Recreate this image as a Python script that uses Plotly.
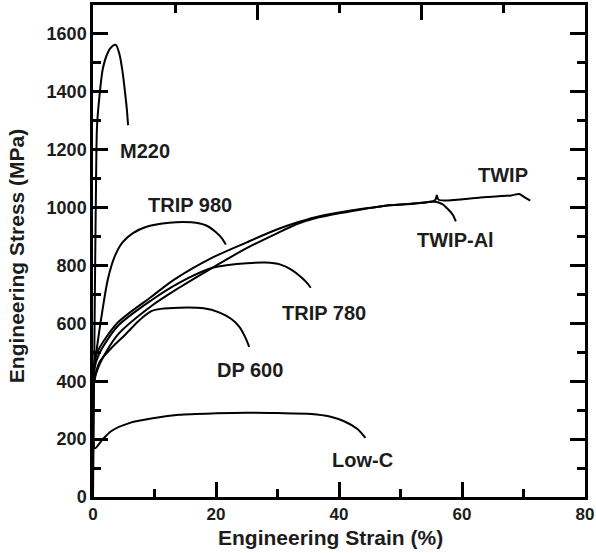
import plotly.graph_objects as go

# ---------------- data (engineering strain %, engineering stress MPa) ----------------
m220_x = [0, 0.3, 0.5, 0.65, 1.0, 1.6, 2.4, 3.0, 3.7, 4.3, 4.8, 5.2, 5.5, 5.7]
m220_y = [0, 700, 1100, 1280, 1374, 1480, 1535, 1555, 1562, 1530, 1470, 1400, 1340, 1285]

trip980_x = [0, 0.2, 0.6, 1.5, 2.4, 3.5, 4.8, 6.5, 8.7, 12.4, 16, 18.4, 20, 21, 21.6]
trip980_y = [0, 440, 510, 640, 751, 830, 880, 912, 934, 948, 949, 938, 915, 893, 872]

trip780_x = [0, 0.2, 1, 4, 9.5, 14, 19.4, 22, 25, 28, 30.5, 32.3, 34, 35, 35.4]
trip780_y = [0, 440, 495, 590, 680, 740, 792, 802, 808, 810, 803, 785, 757, 735, 723]

twipal_x = [0, 0.2, 0.8, 4, 9.5, 13.2, 19.4, 25, 30, 33.4, 36, 40, 47, 52, 55.6, 56.8, 57.7, 58.5, 59]
twipal_y = [0, 460, 505, 602, 692, 751, 827, 880, 925, 950, 966, 983, 1005, 1013, 1020, 1012, 995, 975, 952]

twip_x = [0, 0.2, 1, 4, 9.5, 14, 19.4, 25, 30, 33.4, 36, 40, 47, 52, 55.6, 55.9, 56.2, 63, 68, 69.3, 70, 71.1]
twip_y = [0, 400, 455, 560, 660, 723, 792, 860, 912, 945, 962, 980, 1005, 1014, 1025, 1042, 1027, 1035, 1042, 1047, 1038, 1024]

dp600_x = [0, 0.2, 1.1, 3, 5.2, 7.5, 9.5, 11, 14, 18, 20.5, 22.5, 23.8, 24.8, 25.4]
dp600_y = [0, 400, 467, 515, 560, 610, 642, 650, 654, 652, 638, 615, 588, 550, 519]

lowc_x = [0, 0.05, 0.3, 1.6, 3, 6, 10, 14, 20, 25, 30, 35.5, 38.5, 41, 43, 44.3]
lowc_y = [0, 200, 168, 200, 228, 256, 273, 284, 289, 291, 290, 287, 278, 260, 235, 204]

label_text = ["M220", "TRIP 980", "TRIP 780", "DP 600", "Low-C", "TWIP", "TWIP-Al"]
label_x = [8.4, 15.7, 37.6, 25.5, 43.9, 66.7, 59.0]
label_y = [1194, 1010, 637, 439, 128, 1114, 889]

x_title = "Engineering Strain (%)"
y_title = "Engineering Stress (MPa)"

# ---------------- figure ----------------
FONT = "Liberation Sans, Arial, sans-serif"
INK = "#1c1c1c"

fig = go.Figure()
series = [
    (m220_x, m220_y), (trip980_x, trip980_y), (trip780_x, trip780_y),
    (twipal_x, twipal_y), (twip_x, twip_y), (dp600_x, dp600_y), (lowc_x, lowc_y),
]
for xs, ys in series:
    fig.add_trace(go.Scatter(
        x=xs, y=ys, mode="lines",
        line=dict(color="black", width=2, shape="spline", smoothing=0.8),
        showlegend=False, hoverinfo="skip",
    ))

# invisible trace to anchor the top tick axis
fig.add_trace(go.Scatter(x=[0], y=[0], xaxis="x2", mode="markers",
                         marker=dict(opacity=0), showlegend=False, hoverinfo="skip"))

for t, x, y in zip(label_text, label_x, label_y):
    fig.add_annotation(x=x, y=y, text=t, showarrow=False,
                       font=dict(family=FONT, size=20, color=INK, weight="bold"),
                       xanchor="center", yanchor="middle")

# axis titles as paper annotations for exact placement
fig.add_annotation(xref="paper", yref="paper", x=0.482, y=-0.083, text=x_title,
                   showarrow=False, xanchor="center", yanchor="middle",
                   font=dict(family=FONT, size=21, color=INK, weight="bold"))
fig.add_annotation(xref="paper", yref="paper", x=-0.154, y=0.49, text=y_title,
                   showarrow=False, xanchor="center", yanchor="middle", textangle=-90,
                   font=dict(family=FONT, size=21, color=INK, weight="bold"))

fig.update_layout(
    width=596, height=553,
    margin=dict(l=93, r=11, t=5, b=56),
    paper_bgcolor="white", plot_bgcolor="white",
    showlegend=False,
    font=dict(family=FONT, color=INK),
    xaxis=dict(
        range=[0, 80], dtick=20, tick0=0,
        showgrid=False, zeroline=False,
        showline=True, linecolor="black", linewidth=2.5, mirror=False,
        ticks="inside", ticklen=15, tickwidth=2.5, tickcolor="black",
        minor=dict(dtick=10, ticks="inside", ticklen=8, tickwidth=2.5, tickcolor="black", showgrid=False),
        tickfont=dict(family=FONT, size=17, color=INK, weight="bold"),
        ticklabeloverflow="allow",
        automargin=False,
    ),
    xaxis2=dict(
        overlaying="x", side="top", range=[0, 6], dtick=2, tick0=0,
        showgrid=False, zeroline=False, showline=True, linecolor="black", linewidth=2.5,
        showticklabels=False,
        ticks="inside", ticklen=15, tickwidth=2.5, tickcolor="black",
        minor=dict(dtick=1, ticks="inside", ticklen=8, tickwidth=2.5, tickcolor="black", showgrid=False),
        automargin=False,
    ),
    yaxis=dict(
        range=[0, 1700], dtick=200, tick0=0,
        showgrid=False, zeroline=False,
        showline=True, linecolor="black", linewidth=2.5, mirror="ticks",
        ticks="inside", ticklen=15, tickwidth=2.5, tickcolor="black",
        minor=dict(dtick=100, ticks="inside", ticklen=8, tickwidth=2.5, tickcolor="black", showgrid=False),
        tickfont=dict(family=FONT, size=18, color=INK, weight="bold"),
        automargin=False,
    ),
)

fig.write_html("out.html")
